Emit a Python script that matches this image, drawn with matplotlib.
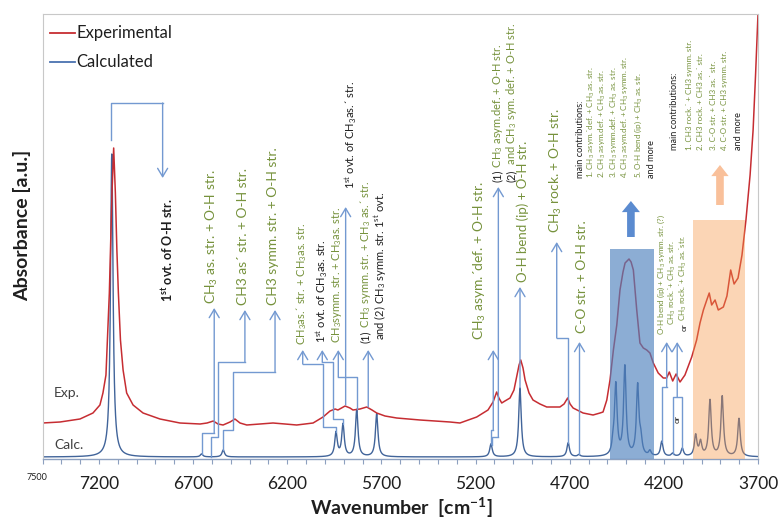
#!/usr/bin/env python3
"""NIR spectrum: experimental vs calculated, with band assignments."""
import numpy as np
import matplotlib
matplotlib.use("Agg")
import matplotlib.pyplot as plt
from matplotlib.ticker import MultipleLocator

plt.rcParams['font.family'] = ['Lato', 'DejaVu Sans']
plt.rcParams['mathtext.fontset'] = 'custom'
plt.rcParams['mathtext.rm'] = 'Lato'
plt.rcParams['mathtext.it'] = 'Lato:italic'
plt.rcParams['mathtext.bf'] = 'Lato:bold'
plt.rcParams['mathtext.default'] = 'regular'

# experimental spectrum (wavenumber cm-1, absorbance a.u.)
exp_wn = [7500, 7407, 7301, 7232, 7195, 7179, 7163, 7145, 7131, 7122, 7113, 7105,
          7097, 7086, 7072, 7053, 7019, 6966, 6876, 6770, 6663, 6626, 6593, 6568,
          6541, 6504, 6478, 6451, 6415, 6345, 6276, 6212, 6150, 6106, 6063, 6010,
          5973, 5946, 5931, 5893, 5867, 5851, 5814, 5778, 5750, 5725, 5681, 5619,
          5495, 5336, 5283, 5194, 5134, 5107, 5088, 5076, 5061, 5044, 5017, 4996,
          4982, 4969, 4960, 4948, 4937, 4916, 4895, 4858, 4822, 4752, 4730, 4711,
          4698, 4682, 4629, 4576, 4539, 4523, 4503, 4486, 4468, 4450, 4433, 4417,
          4406, 4385, 4374, 4362, 4344, 4327, 4309, 4291, 4274, 4256, 4230, 4203,
          4185, 4171, 4153, 4135, 4114, 4088, 4052, 4026, 4008, 3990, 3972, 3959,
          3946, 3928, 3911, 3884, 3865, 3845, 3827, 3806, 3785, 3764, 3742, 3726,
          3713, 3700]
exp_abs = [36, 37, 40, 46, 54, 66, 84, 166, 266, 311, 266, 209,
           166, 119, 89, 66, 54, 46, 40, 36, 35, 36, 38, 35,
           34, 37, 40, 36, 34, 35, 36, 35, 34, 35, 36, 42,
           48, 50, 49, 53, 51, 49, 50, 52, 49, 46, 43, 41,
           39, 37, 36, 42, 49, 57, 67, 61, 56, 58, 61, 69,
           82, 94, 99, 91, 79, 66, 59, 55, 52, 52, 55, 61,
           55, 51, 46, 44, 46, 47, 59, 79, 109, 134, 169, 187,
           196, 200, 197, 189, 149, 116, 111, 109, 106, 96, 86, 81,
           81, 87, 78, 85, 77, 84, 102, 119, 136, 149, 159, 166,
           154, 159, 149, 152, 163, 189, 175, 181, 204, 239, 284, 329,
           384, 445]

# calculated bands (position cm-1, intensity a.u.), Lorentzian broadened
calc_pos = [7132, 6655, 6540, 5941, 5904, 5831, 5725, 5118, 4964, 4708, 4651,
            4469, 4455, 4407, 4339, 4322, 4274, 4211, 4153, 4102,
            4031, 4005, 3955, 3890, 3801]
calc_int = [303, 3, 7, 24, 32, 47, 43, 13, 69, 14, 2,
            10, 70, 89, 70, 14, 5, 15, 3, 8,
            21, 14, 56, 60, 38]
calc_fwhm = 16
calc_base = 2

tick_wn = [7200, 6700, 6200, 5700, 5200, 4700, 4200, 3700]

contrib_a = ["main contributions:",
             "1. CH$_3$ asym.\u00b4def. + CH$_3$ as. str.",
             "2. CH$_3$ asym.def. + CH$_3$ as. str.",
             "3. CH$_3$ symm.def. + CH$_3$ as. str.",
             "4. CH$_3$ asym.def. + CH$_3$ symm. str.",
             "5. O-H bend (ip) + CH$_3$ as. str.",
             "and more"]
contrib_b = ["main contributions:",
             "1. CH3 rock.\u00b4 + CH3 symm. str.",
             "2. CH3 rock. + CH3 as.\u00b4 str.",
             "3. C-O str. + CH3 as.\u00b4 str.",
             "4. C-O str. + CH3 symm. str.",
             "and more"]

RED = '#c62d32'
BLUE = '#41649a'
ARROW = '#7399d1'
GREEN = '#76923c'
BLACK = '#1f1f1f'
AXIS = '#8da0bf'
BIG, SMALL, LIST, TINY = 10, 8, 5.8, 5.8

fig = plt.figure(figsize=(7.79, 5.24), dpi=100)
ax = fig.add_axes([42.5 / 779, 65 / 524, 715.5 / 779, 445 / 524])

wn = np.arange(3700, 7501, 1.0)
calc = np.full_like(wn, calc_base, dtype=float)
g = calc_fwhm / 2
for c, h in zip(calc_pos, calc_int):
    calc += h / (1 + ((wn - c) / g) ** 2)

ax.plot(wn, calc, color=BLUE, lw=1.0, zorder=2)
ax.plot(exp_wn, exp_abs, color=RED, lw=1.1, zorder=2)

# highlighted regions
ax.fill_between([4486, 4252], 0, 210, color='#4f81bd', alpha=0.65, lw=0, zorder=3)
ax.fill_between([4046, 3770], 0, 239, color='#f79646', alpha=0.4, lw=0, zorder=3)
ax.annotate('', xy=(4375, 258), xytext=(4375, 222),
            arrowprops=dict(arrowstyle='simple,head_length=0.8,head_width=1.3,tail_width=0.55',
                            color='#5b8bd0', lw=0, shrinkA=0, shrinkB=0, mutation_scale=10))
ax.annotate('', xy=(3902, 294), xytext=(3902, 254),
            arrowprops=dict(arrowstyle='simple,head_length=0.8,head_width=1.25,tail_width=0.55',
                            color='#f9c09a', lw=0, shrinkA=0, shrinkB=0, mutation_scale=10))


def connector(pts, arrow=True):
    xs = [p[0] for p in pts]
    ys = [p[1] for p in pts]
    if not arrow:
        ax.plot(xs, ys, color=ARROW, lw=1.0, zorder=4)
        return
    ax.plot(xs[:-1], ys[:-1], color=ARROW, lw=1.0, zorder=4)
    ax.annotate('', xy=pts[-1], xytext=pts[-2],
                arrowprops=dict(arrowstyle='->,head_length=0.5,head_width=0.3',
                                color=ARROW, lw=1.0, shrinkA=0, shrinkB=0,
                                mutation_scale=12), zorder=4)


def vtext(x, y, s, color, size, **kw):
    return ax.text(x, y, s, rotation=90, ha='center', va='bottom',
                   color=color, fontsize=size, zorder=5, **kw)


def vtext_parts(x, y, parts, size):
    t = vtext(x, y, parts[0][0], parts[0][1], size)
    for s, col in parts[1:]:
        t = ax.annotate(s, xy=(0.5, 1), xycoords=t, rotation=90, ha='center',
                        va='bottom', color=col, fontsize=size, zorder=5)
    return t


# O-H overtone
connector([(7138, 319), (7138, 356), (6862, 356), (6862, 281)])
vtext(6840, 157, "1$^{st}$ ovt. of O-H str.", BLACK, 9, fontweight='bold')

connector([(6655, 5), (6655, 26), (6588, 26), (6588, 151)])
vtext(6601, 155, "CH$_3$ as. str. + O-H str.", GREEN, BIG)
connector([(6607, 2), (6607, 22), (6566, 22), (6566, 97), (6425, 97), (6425, 149)])
vtext(6437, 154, "CH3 as\u00b4 str. + O-H str.", GREEN, BIG)
connector([(6540, 9), (6540, 29), (6487, 29), (6487, 87), (6265, 87), (6265, 149)])
vtext(6274, 154, "CH3 symm. str. + O-H str.", GREEN, BIG)

# C-H overtone / combination region
connector([(5941, 27), (5941, 32), (6009, 32), (6009, 95), (6118, 95), (6118, 109)])
vtext(6123, 114, "CH$_3$as.\u00b4 str. + CH$_3$as. str.", GREEN, SMALL)
connector([(5904, 35), (5904, 40), (5956, 40), (5956, 97), (6014, 97), (6014, 109)])
vtext(6017, 116, "1$^{st}$ ovt. of CH$_3$as. str.", BLACK, SMALL)
connector([(5831, 50), (5831, 82), (5929, 82), (5929, 109)])
vtext(5938, 116, "CH$_3$symm. str. + CH$_3$as. str.", GREEN, SMALL)
connector([(5890, 54), (5890, 252)])
vtext(5858, 270, "1$^{st}$ ovt. of CH$_3$as.\u00b4 str.", BLACK, SMALL)
connector([(5770, 52), (5770, 109)])
vtext_parts(5787, 116, [("(1)", BLACK), (" CH$_3$ symm. str. + CH$_3$ as.\u00b4 str.", GREEN)], SMALL)
vtext(5708, 119, "and (2) CH$_3$ symm. str. 1$^{st}$ ovt.", BLACK, SMALL)

# combination bands with O-H stretch
connector([(5118, 15), (5118, 29), (5106, 29), (5106, 109)])
vtext(5176, 119, "CH$_3$ asym.\u00b4def. + O-H str.", GREEN, BIG)
connector([(5112, 14), (5112, 22), (5079, 22), (5079, 272)])
vtext_parts(5083, 277, [("(1)", BLACK), (" CH$_3$ asym.def. + O-H str.", GREEN)], 8)
vtext_parts(5010, 277, [("(2)", BLACK), ("  and CH$_3$ sym. def. + O-H str.", GREEN)], 8)
connector([(4964, 71), (4964, 172)])
vtext(4952, 177, "O-H bend (ip) + O-H str.", GREEN, 9.5)
connector([(4708, 16), (4708, 121), (4769, 121), (4769, 217)])
vtext(4773, 226, "CH$_3$ rock. + O-H str.", GREEN, BIG)
connector([(4648, 4), (4648, 117)])
vtext(4636, 126, "C-O str. + O-H str.", GREEN, BIG)

# main contributions lists
for x, s in zip([4642, 4584, 4524, 4465, 4402, 4337, 4266], contrib_a):
    black = s.startswith(("main", "and"))
    vtext(x, 281, s, BLACK if black else GREEN, 6.6 if black else LIST)
for x, s in zip([4141, 4066, 4008, 3934, 3880, 3801], contrib_b):
    black = s.startswith(("main", "and"))
    vtext(x, 309, s, BLACK if black else GREEN, 6.6 if black else LIST)

# 4200 region
connector([(4211, 17), (4211, 72), (4185, 72), (4185, 117)])
connector([(4153, 5), (4153, 62), (4102, 62), (4102, 10)], arrow=False)
connector([(4129, 62), (4129, 117)])
ax.text(4129, 40, "or", rotation=90, ha='center', va='center', color=BLACK, fontsize=6, zorder=5)
vtext(4211, 124, "O-H bend (ip) + CH$_3$ symm. str. (?)", GREEN, TINY)
vtext(4153, 134, "CH$_3$ rock.\u00b4+ CH$_3$ as. str.", GREEN, TINY)
vtext_parts(4094, 128, [("or", BLACK), (" CH$_3$ rock.\u00b4+ CH$_3$ as.\u00b4str.", GREEN)], TINY)

# axes
ax.set_xlim(7500, 3700)
ax.set_ylim(0, 445)
ax.set_yticks([])
ax.set_xticks(tick_wn)
ax.set_xticklabels([str(t) for t in tick_wn])
ax.xaxis.set_minor_locator(MultipleLocator(100))
ax.tick_params(axis='x', which='both', direction='out', length=3.3, width=0.8,
               color=AXIS, labelsize=12.5, pad=9, labelcolor=BLACK)
for side in ('top', 'left', 'right'):
    ax.spines[side].set_color('#c8c8c8')
    ax.spines[side].set_linewidth(0.8)
ax.spines['bottom'].set_color(AXIS)
ax.spines['bottom'].set_linewidth(1.0)
ax.text(7527, -18, "7500", ha='center', va='center', fontsize=6.5, color=BLACK, clip_on=False)

ax.text(0.052, 0.148, "Exp.", transform=ax.transAxes, ha='right', va='center',
        fontsize=10, color='#404040')
ax.text(0.057, 0.031, "Calc.", transform=ax.transAxes, ha='right', va='center',
        fontsize=10, color='#404040')

# legend drawn by hand to sit like the original
ax.plot([0.0105, 0.0454], [0.957, 0.957], transform=ax.transAxes, color=RED, lw=1.3)
ax.text(0.0478, 0.957, "Experimental", transform=ax.transAxes, va='center', fontsize=12, color=BLACK)
ax.plot([0.0105, 0.0454], [0.892, 0.892], transform=ax.transAxes, color='#4a72b0', lw=1.3)
ax.text(0.0478, 0.892, "Calculated", transform=ax.transAxes, va='center', fontsize=12, color=BLACK)

fig.text(401.7 / 779, 16 / 524, "Wavenumber  [cm$^{\\mathbf{-1}}$]", ha='center', va='center',
         fontsize=14, fontweight='bold', color=BLACK)
fig.text(22 / 779, 299 / 524, "Absorbance [a.u.]", rotation=90, ha='center', va='center',
         fontsize=14, fontweight='bold', color=BLACK)

fig.savefig("out.png", dpi=100)
